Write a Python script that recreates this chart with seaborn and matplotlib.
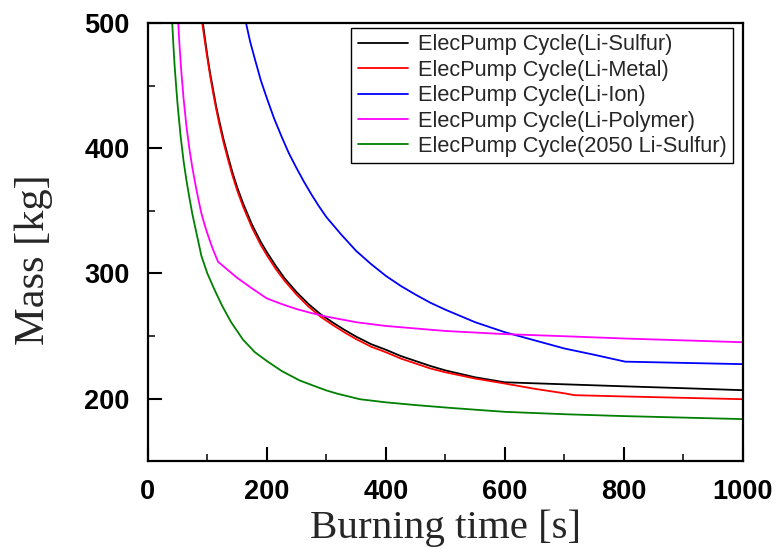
"""
Battery mass vs burning time for the electric pump cycle.
Values read off the reference figure.
"""

import pandas as pd
import matplotlib
matplotlib.use("Agg")
import matplotlib.pyplot as plt
from matplotlib.ticker import MultipleLocator
import seaborn as sns

sns.set_style("ticks")
plt.rcParams["font.family"] = ["Liberation Sans", "DejaVu Sans"]

# ------------------------------------------------------------
# DATA (burning time [s], mass [kg])
# ------------------------------------------------------------
li_sulfur_t = [90, 95, 100, 105, 110, 115, 120, 127, 135, 142, 150, 160, 175, 190, 200, 215, 230, 250,
               270, 290, 310, 330, 350, 375, 400, 425, 450, 475, 500, 550, 600,
               700, 800, 900, 1000]
li_sulfur_m = [509, 491, 474, 459, 446, 433, 422, 407.5, 393, 381, 369, 356, 339, 325, 317, 306, 296, 285,
               275.5, 267.5, 261, 255, 249.5, 243.5, 239, 234, 230, 226, 222.5, 217, 213,
               211.4, 209.8, 208.3, 206.7]

li_metal_t = [89, 95, 100, 105, 110, 115, 120, 127, 135, 142, 150, 160, 175, 190, 200, 215, 230, 250,
              270, 290, 310, 330, 350, 375, 400, 425, 450, 475, 500, 550, 600,
              650, 700, 717, 800, 900, 1000]
li_metal_m = [508, 488, 472, 457, 443.5, 431, 419.5, 405, 390.5, 378.5, 366.5, 353.5, 336.5, 322.5, 314.5, 303.5,
              294, 283, 273.5, 265.5, 259, 253, 247.5, 241.5, 237, 232, 228, 224, 221, 216, 212,
              207.8, 204.2, 202.7, 201.7, 200.6, 199.5]

li_ion_t = [160, 165, 172, 180, 190, 200, 212, 225, 237, 250, 262, 275, 287, 300, 325, 350, 375,
            400, 425, 450, 475, 500, 550, 600, 650, 700, 750, 802, 900, 1000]
li_ion_m = [510, 500, 485, 471, 454, 440, 424, 409, 396, 384, 373.5, 363, 354, 345, 331, 318, 307.5,
            298, 290, 283, 276.5, 271, 261, 253, 246.5, 240, 235, 229.5, 228.5, 227.5]

li_polymer_t = [50, 53, 56, 60, 65, 70, 75, 80, 85, 90, 95, 100, 105, 110, 118, 130, 150, 175, 200,
                225, 250, 275, 300, 350, 400, 450, 500, 600, 700, 800, 900, 1000]
li_polymer_m = [510, 484, 463, 440, 417, 399, 384, 371, 359, 348, 339.5, 332, 325, 318.5, 309.3, 304.5, 296.5,
                288, 280, 275.5, 271.5, 268.3, 265.5, 261, 258, 256, 254, 251.5, 249.8, 248, 246.5, 245]

li_sulfur_2050_t = [41, 43, 45, 48, 50, 55, 60, 65, 70, 75, 80, 90, 100, 112, 125, 140, 160, 180, 200, 225,
                    255, 280, 300, 320, 340, 356, 400, 450, 507, 600, 700, 800, 900, 1000]
li_sulfur_2050_m = [500, 482, 466, 447, 435, 410, 390, 374, 360, 347, 336, 314, 300, 287, 274, 261, 247,
                    237, 230, 222, 214.5, 210, 206.5, 203.7, 201.4, 199.5, 197, 194.8, 192.6, 189.4,
                    187.5, 186, 184.8, 183.6]

series = [
    ("ElecPump Cycle(Li-Sulfur)", li_sulfur_t, li_sulfur_m, "black"),
    ("ElecPump Cycle(Li-Metal)", li_metal_t, li_metal_m, "#ff0000"),
    ("ElecPump Cycle(Li-Ion)", li_ion_t, li_ion_m, "#0000ff"),
    ("ElecPump Cycle(Li-Polymer)", li_polymer_t, li_polymer_m, "#ff00ff"),
    ("ElecPump Cycle(2050 Li-Sulfur)", li_sulfur_2050_t, li_sulfur_2050_m, "#008000"),
]

# ------------------------------------------------------------
# PLOT
# ------------------------------------------------------------
fig = plt.figure(figsize=(7.78, 5.49), dpi=100)
ax = fig.add_axes([0.190, 0.160, 0.765, 0.798])

for label, t, m, color in series:
    df = pd.DataFrame({"t": t, "m": m})
    sns.lineplot(data=df, x="t", y="m", color=color, linewidth=1.3, label=label,
                 sort=False, estimator=None, ax=ax)

ax.set_xlim(0, 1000)
ax.set_ylim(150, 500)
ax.xaxis.set_major_locator(MultipleLocator(200))
ax.xaxis.set_minor_locator(MultipleLocator(100))
ax.yaxis.set_major_locator(MultipleLocator(100))
ax.yaxis.set_minor_locator(MultipleLocator(50))

ax.tick_params(which="major", direction="in", length=10, width=1.5, pad=13,
               labelsize=19.5, colors="black")
ax.tick_params(which="minor", direction="in", length=5, width=1.3)
for lab in ax.get_xticklabels() + ax.get_yticklabels():
    lab.set_fontweight("bold")

for sp in ax.spines.values():
    sp.set_linewidth(1.6)
    sp.set_color("black")

serif = ["Liberation Serif", "DejaVu Serif"]
ax.set_xlabel("Burning time [s]", fontsize=29.5, family=serif, labelpad=3)
ax.set_ylabel("Mass [kg]", fontsize=30.5, family=serif)
ax.yaxis.set_label_coords(-0.16, 0.46)

leg = ax.legend(loc="upper right", bbox_to_anchor=(0.983, 0.989), borderaxespad=0,
                fontsize=15.7, frameon=True, fancybox=False, framealpha=1,
                edgecolor="black", borderpad=0.3, labelspacing=0.2,
                handlelength=2.3, handletextpad=0.45)
leg.get_frame().set_linewidth(1.0)

fig.savefig("out.png", dpi=100)
plt.close(fig)
